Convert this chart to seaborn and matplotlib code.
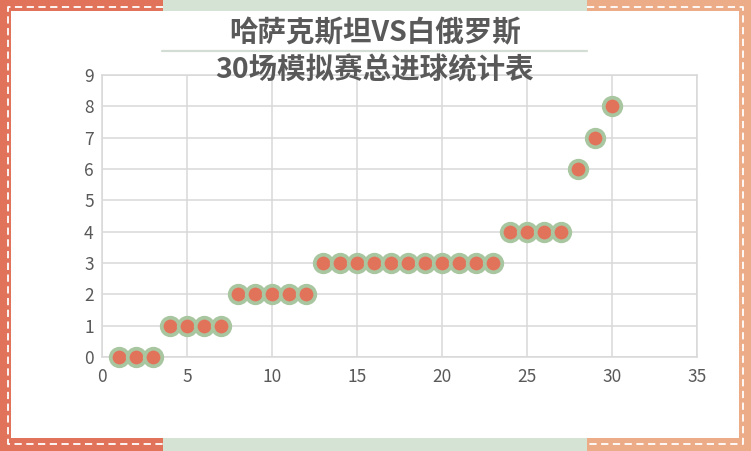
import matplotlib
matplotlib.use('Agg')
import matplotlib.pyplot as plt
import seaborn as sns
import pandas as pd
from matplotlib.patches import Rectangle
from matplotlib.lines import Line2D

sns.set_theme(style='whitegrid')
plt.rcParams['font.family'] = ['Noto Sans CJK SC', 'DejaVu Sans']

# match number and total goals
matches = list(range(1, 31))
goals = [0, 0, 0, 1, 1, 1, 1, 2, 2, 2, 2, 2,
         3, 3, 3, 3, 3, 3, 3, 3, 3, 3, 3,
         4, 4, 4, 4, 6, 7, 8]
x_ticks = [0, 5, 10, 15, 20, 25, 30, 35]
y_ticks = [0, 1, 2, 3, 4, 5, 6, 7, 8, 9]

df = pd.DataFrame({'match': matches, 'goals': goals})

red = '#E2735B'
green = '#D4E3D3'
peach = '#ECAC88'
text_grey = '#595959'
grid_grey = '#D9D9D9'

fig = plt.figure(figsize=(7.51, 4.51), dpi=100)

# frame: coloured border strips
W, H = 751, 451
def px_rect(x0, y0, x1, y1, color):
    fig.patches.append(Rectangle((x0 / W, 1 - y1 / H), (x1 - x0) / W, (y1 - y0) / H,
                                 transform=fig.transFigure, color=color, zorder=-10, lw=0))

px_rect(0, 0, W, H, green)
px_rect(0, 0, 163, H, red)
px_rect(587, 0, W, H, peach)
px_rect(11, 11, 739, 438, 'white')

def px_line(xs, ys):
    fig.lines.append(Line2D([x / W for x in xs], [1 - y / H for y in ys],
                            transform=fig.transFigure, color='white', lw=1.3,
                            linestyle=(0, (4, 2.5)), zorder=-5))

px_line([163, 8, 8, 163], [7, 7, 444, 444])
px_line([587, 743, 743, 587], [7, 7, 444, 444])

ax = fig.add_axes([102 / W, 1 - 357 / H, (697 - 102) / W, (357 - 75) / H])
ax.set_zorder(5)
ax.set_facecolor('none')

sns.scatterplot(data=df, x='match', y='goals', ax=ax, s=160, color=red,
                edgecolor='#A8C6A0', linewidth=2.7, zorder=3, clip_on=False)

ax.set_xlim(0, 35)
ax.set_ylim(0, 9)
ax.set_xticks(x_ticks)
ax.set_yticks(y_ticks)
ax.grid(True, color=grid_grey, linewidth=1.1)
for s in ax.spines.values():
    s.set_visible(True)
    s.set_color(grid_grey)
    s.set_linewidth(1.1)
ax.tick_params(axis='both', length=0, labelsize=12.5, labelcolor=text_grey, pad=6)
ax.tick_params(axis='x', pad=8)
ax.set_xlabel('')
ax.set_ylabel('')

# title with divider line
fig.text(375 / W, 1 - 33 / H, '哈萨克斯坦VS白俄罗斯', ha='center', va='center',
         fontsize=20.5, fontweight='bold', color=text_grey, zorder=6)
fig.text(375 / W, 1 - 70 / H, '30场模拟赛总进球统计表', ha='center', va='center',
         fontsize=20.5, fontweight='bold', color=text_grey, zorder=6)
fig.lines.append(Line2D([162 / W, 587 / W], [1 - 51 / H, 1 - 51 / H],
                        transform=fig.transFigure, color='#D3DDD3', lw=1.6, zorder=6))

fig.savefig('out.png', dpi=100)
plt.close(fig)
